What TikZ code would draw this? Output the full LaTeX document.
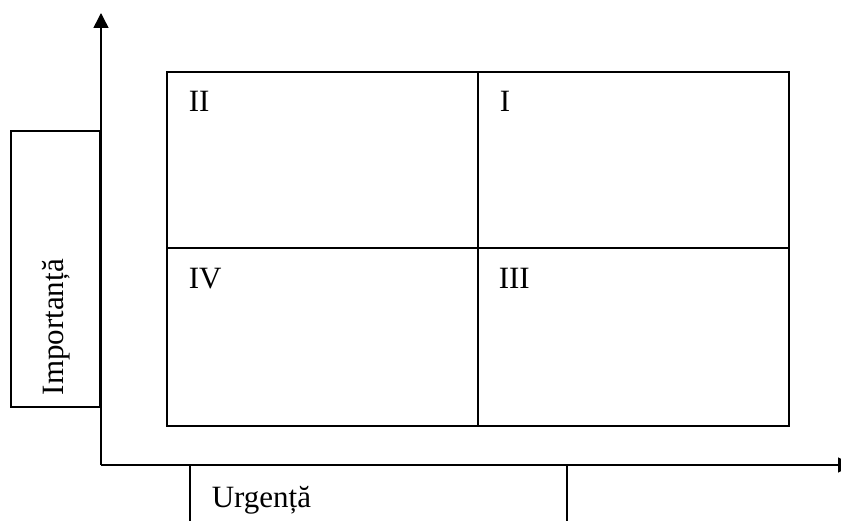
\documentclass[tikz,border=0pt]{standalone}
\usepackage{fontspec}
\setmainfont{Liberation Serif}
\usetikzlibrary{arrows.meta}

\begin{document}
\begin{tikzpicture}[x=1pt,y=1pt,>={Triangle[length=15pt,width=15pt]},line width=1.5pt,line join=miter]
\tikzset{numeral/.style={anchor=base west,inner sep=0pt,font=\fontsize{31}{36}\selectfont}}
\clip (0,0) rectangle (841,520);
\coordinate (o) at (101,55);
\coordinate (ytop) at (101,507);
\coordinate (xend) at (853,55);
\coordinate (ul) at (190,55);
\coordinate (ur) at (567,55);
\coordinate (ull) at (190,-5);
\coordinate (url) at (567,-5);
% axes
\draw[->] (o) -- (ytop);
\draw[->] (o) -- (xend);
% label boxes
\node[draw,line width=1.3pt,inner sep=0pt,minimum width=89pt,minimum height=276pt] (impbox) at (55.5,251) {};
\node[numeral,rotate=90] (imp) at (63,124) {Importanță};
\draw[line width=1.3pt] (ull) -- (ul);
\draw[line width=1.3pt] (url) -- (ur);
\node[numeral] (urg) at (211,13) {Urgență};
% matrix
\draw (167,94) rectangle (789,448);
\draw (478,94) -- (478,448);
\draw (167,272) -- (789,272);
\node[numeral] (q2) at (188,408) {II};
\node[numeral] (q1) at (499,408) {I};
\node[numeral] (q4) at (188,231) {IV};
\node[numeral] (q3) at (498,231) {III};
\end{tikzpicture}
\end{document}
